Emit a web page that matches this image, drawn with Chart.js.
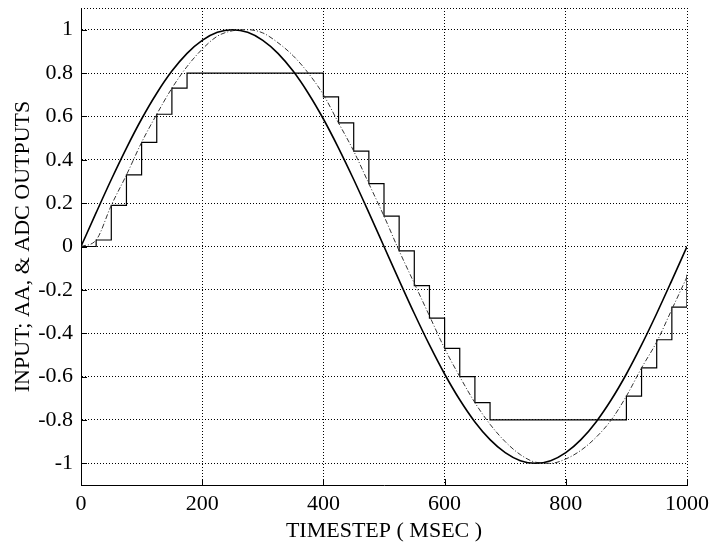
<!DOCTYPE html>
<html>
<head>
<meta charset="utf-8">
<script src="https://cdn.jsdelivr.net/npm/chart.js@4.4.0/dist/chart.umd.min.js"></script>
<style>
html, body { margin: 0; padding: 0; background: #fff; }
#wrap { width: 712px; height: 545px; }
</style>
</head>
<body>
<div id="wrap"><canvas id="adcChart" width="712" height="545"></canvas></div>
<script>
// sample times (msec)
var timeMs = [0, 25, 50, 75, 100, 125, 150, 175, 200, 225,
              250, 275, 300, 325, 350, 375, 400, 425, 450, 475,
              500, 525, 550, 575, 600, 625, 650, 675, 700, 725,
              750, 775, 800, 825, 850, 875, 900, 925, 950, 975, 1000];

// input signal
var inputSig = [0, 0.156, 0.309, 0.454, 0.588, 0.707, 0.809, 0.891, 0.951, 0.988,
                1, 0.988, 0.951, 0.891, 0.809, 0.707, 0.588, 0.454, 0.309, 0.156,
                0, -0.156, -0.309, -0.454, -0.588, -0.707, -0.809, -0.891, -0.951, -0.988,
                -1, -0.988, -0.951, -0.891, -0.809, -0.707, -0.588, -0.454, -0.309, -0.156, 0];

// anti-alias filter output
var aaOut = [0, 0.03, 0.19, 0.33, 0.48, 0.61, 0.73, 0.83, 0.91, 0.97,
             0.995, 1, 0.985, 0.94, 0.88, 0.8, 0.7, 0.57, 0.44, 0.29,
             0.14, -0.02, -0.17, -0.32, -0.47, -0.6, -0.72, -0.82, -0.9, -0.96,
             -0.995, -1, -0.98, -0.94, -0.88, -0.8, -0.69, -0.56, -0.44, -0.29, -0.14];

// ADC output (held from each sample time)
var adcOut = [0, 0.03, 0.19, 0.33, 0.48, 0.61, 0.73, 0.8, 0.8, 0.8,
              0.8, 0.8, 0.8, 0.8, 0.8, 0.8, 0.69, 0.57, 0.44, 0.29,
              0.14, -0.02, -0.18, -0.33, -0.47, -0.6, -0.72, -0.8, -0.8, -0.8,
              -0.8, -0.8, -0.8, -0.8, -0.8, -0.8, -0.69, -0.56, -0.43, -0.28, -0.13];

var xTicks = [0, 200, 400, 600, 800, 1000];
var yTicks = [-1, -0.8, -0.6, -0.4, -0.2, 0, 0.2, 0.4, 0.6, 0.8, 1];

function toPoints(vals) {
  return timeMs.map(function(t, i) { return { x: t, y: vals[i] }; });
}

var serif = { family: '"Liberation Serif", "Times New Roman", serif', size: 22 };

// dotted top edge + inward tick marks
var boxPlugin = {
  id: 'boxPlugin',
  beforeDatasetsDraw: function(chart) {
    var ctx = chart.ctx, a = chart.chartArea;
    var xs = chart.scales.x, ys = chart.scales.y;
    ctx.save();
    ctx.strokeStyle = '#000';
    ctx.lineWidth = 1;
    ctx.setLineDash([1, 2]);
    ctx.beginPath();
    ctx.moveTo(a.left, Math.round(a.top) + 0.5);
    ctx.lineTo(a.right, Math.round(a.top) + 0.5);
    ctx.stroke();
    ctx.setLineDash([]);
    ctx.beginPath();
    xTicks.forEach(function(v) {
      var px = Math.round(xs.getPixelForValue(v)) + 0.5;
      ctx.moveTo(px, a.bottom);
      ctx.lineTo(px, a.bottom - 6);
    });
    yTicks.forEach(function(v) {
      var py = Math.round(ys.getPixelForValue(v)) + 0.5;
      ctx.moveTo(a.left, py);
      ctx.lineTo(a.left + 6, py);
    });
    ctx.stroke();
    ctx.restore();
  }
};

var ctx = document.getElementById('adcChart').getContext('2d');
var myChart = new Chart(ctx, {
  type: 'line',
  data: {
    datasets: [
      {
        label: 'INPUT',
        data: toPoints(inputSig),
        borderColor: '#000',
        borderWidth: 1.6,
        pointRadius: 0,
        cubicInterpolationMode: 'monotone',
        fill: false
      },
      {
        label: 'AA',
        data: toPoints(aaOut),
        borderColor: '#333',
        borderWidth: 1,
        borderDash: [5, 2, 1, 2],
        pointRadius: 0,
        cubicInterpolationMode: 'monotone',
        fill: false
      },
      {
        label: 'ADC',
        data: toPoints(adcOut),
        borderColor: '#000',
        borderWidth: 1.2,
        pointRadius: 0,
        stepped: 'before',
        fill: false
      }
    ]
  },
  options: {
    responsive: false,
    animation: false,
    layout: { padding: { left: 0, right: 25, top: 8, bottom: 0 } },
    plugins: { legend: { display: false }, tooltip: { enabled: false } },
    scales: {
      x: {
        type: 'linear',
        min: 0,
        max: 1000,
        afterBuildTicks: function(s) { s.ticks = xTicks.map(function(v) { return { value: v }; }); },
        afterFit: function(s) { s.height = 60; s.paddingLeft = 0; s.paddingRight = 0; },
        ticks: { font: serif, color: '#000', padding: 6, maxRotation: 0, callback: function(v) { return String(v); } },
        grid: { color: '#000', lineWidth: 1, drawTicks: false },
        border: { display: true, color: '#000', width: 1, dash: [1, 2] },
        title: { display: true, text: 'TIMESTEP ( MSEC )', font: serif, color: '#000', padding: { top: 0, bottom: 1 } }
      },
      y: {
        type: 'linear',
        min: -1.1,
        max: 1.1,
        afterBuildTicks: function(s) { s.ticks = yTicks.map(function(v) { return { value: v }; }); },
        afterFit: function(s) { s.width = 81; s.paddingTop = 0; s.paddingBottom = 0; },
        ticks: { font: serif, color: '#000', padding: 8, callback: function(v) { return String(v); } },
        grid: { color: '#000', lineWidth: 1, drawTicks: false },
        border: { display: true, color: '#000', width: 1, dash: [1, 2] },
        title: { display: true, text: 'INPUT; AA, & ADC OUTPUTS', font: serif, color: '#000', padding: { top: 10, bottom: 0 } }
      }
    }
  },
  plugins: [boxPlugin]
});
</script>
</body>
</html>
